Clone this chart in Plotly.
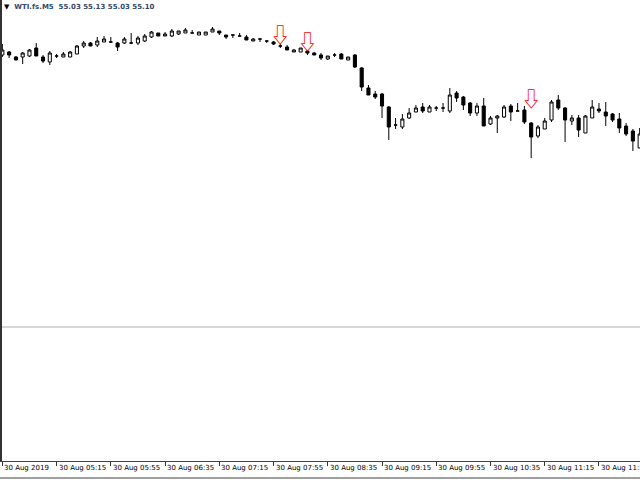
import plotly.graph_objects as go

# ---- data ----
bar_index = list(range(95))

open_ = [55.495, 55.51, 55.485, 55.485, 55.49, 55.53, 55.485, 55.46, 55.49, 55.485,
         55.485, 55.50, 55.54, 55.555, 55.545, 55.56, 55.56, 55.555, 55.555, 55.555,
         55.555, 55.565, 55.585, 55.605, 55.59, 55.59, 55.60, 55.605, 55.605, 55.595,
         55.595, 55.61, 55.615, 55.595, 55.595, 55.59, 55.585, 55.565, 55.575, 55.565,
         55.56, 55.54, 55.535, 55.51, 55.51, 55.515, 55.505, 55.495, 55.475, 55.495,
         55.50, 55.47, 55.495, 55.43, 55.33, 55.30, 55.30, 55.235, 55.145, 55.135,
         55.18, 55.21, 55.235, 55.21, 55.23, 55.23, 55.215, 55.305, 55.285, 55.255,
         55.205, 55.24, 55.15, 55.18, 55.185, 55.24, 55.215, 55.22, 55.155, 55.09,
         55.125, 55.17, 55.27, 55.23, 55.165, 55.18, 55.105, 55.18, 55.225, 55.21,
         55.20, 55.175, 55.14, 55.115, 55.03]
high = [55.55, 55.515, 55.49, 55.51, 55.525, 55.555, 55.495, 55.515, 55.50, 55.51,
        55.515, 55.545, 55.565, 55.56, 55.585, 55.59, 55.585, 55.56, 55.585, 55.605,
        55.59, 55.60, 55.615, 55.605, 55.61, 55.625, 55.615, 55.63, 55.62, 55.61,
        55.61, 55.635, 55.615, 55.595, 55.595, 55.605, 55.595, 55.58, 55.575, 55.565,
        55.565, 55.55, 55.545, 55.525, 55.53, 55.515, 55.51, 55.505, 55.49, 55.505,
        55.505, 55.485, 55.50, 55.435, 55.345, 55.315, 55.305, 55.24, 55.18, 55.20,
        55.23, 55.245, 55.255, 55.245, 55.24, 55.255, 55.33, 55.315, 55.29, 55.26,
        55.255, 55.28, 55.19, 55.195, 55.245, 55.25, 55.255, 55.24, 55.16, 55.145,
        55.18, 55.27, 55.295, 55.235, 55.195, 55.195, 55.195, 55.27, 55.255, 55.26,
        55.205, 55.205, 55.155, 55.125, 55.13]
low = [55.485, 55.48, 55.47, 55.45, 55.485, 55.49, 55.455, 55.445, 55.48, 55.485,
       55.485, 55.50, 55.53, 55.54, 55.535, 55.56, 55.56, 55.515, 55.55, 55.55,
       55.545, 55.56, 55.58, 55.59, 55.59, 55.585, 55.595, 55.605, 55.605, 55.595,
       55.595, 55.61, 55.595, 55.575, 55.58, 55.59, 55.57, 55.565, 55.56, 55.555,
       55.545, 55.53, 55.52, 55.51, 55.51, 55.495, 55.495, 55.47, 55.47, 55.485,
       55.475, 55.47, 55.43, 55.315, 55.295, 55.275, 55.18, 55.07, 55.125, 55.125,
       55.175, 55.21, 55.205, 55.21, 55.215, 55.21, 55.205, 55.26, 55.22, 55.19,
       55.19, 55.14, 55.145, 55.105, 55.18, 55.165, 55.215, 55.15, 54.98, 55.08,
       55.125, 55.16, 55.22, 55.06, 55.145, 55.085, 55.105, 55.18, 55.205, 55.14,
       55.16, 55.105, 55.09, 55.015, 55.03]
close = [55.52, 55.495, 55.47, 55.505, 55.52, 55.49, 55.465, 55.505, 55.49, 55.50,
         55.51, 55.54, 55.555, 55.54, 55.565, 55.575, 55.56, 55.535, 55.575, 55.555,
         55.58, 55.59, 55.61, 55.59, 55.60, 55.615, 55.615, 55.62, 55.605, 55.61,
         55.61, 55.625, 55.605, 55.585, 55.595, 55.59, 55.57, 55.575, 55.575, 55.565,
         55.55, 55.54, 55.52, 55.52, 55.53, 55.505, 55.495, 55.48, 55.49, 55.495,
         55.475, 55.485, 55.435, 55.335, 55.295, 55.285, 55.24, 55.135, 55.145, 55.175,
         55.205, 55.23, 55.215, 55.235, 55.23, 55.23, 55.295, 55.28, 55.245, 55.205,
         55.24, 55.14, 55.18, 55.19, 55.235, 55.21, 55.215, 55.16, 55.085, 55.135,
         55.165, 55.26, 55.23, 55.17, 55.18, 55.12, 55.19, 55.235, 55.215, 55.19,
         55.17, 55.13, 55.10, 55.065, 55.10]

tick_index = [0, 8, 16, 24, 32, 40, 48, 56, 64, 72, 80, 88]
tick_labels = ["30 Aug 2019", "30 Aug 05:15", "30 Aug 05:55", "30 Aug 06:35",
               "30 Aug 07:15", "30 Aug 07:55", "30 Aug 08:35", "30 Aug 09:15",
               "30 Aug 09:55", "30 Aug 10:35", "30 Aug 11:15", "30 Aug 11:55"]

signal_bars = [41, 45, 78]
signal_prices = [55.58, 55.545, 55.26]

symbol = "WTI.fs.M5"
last_ohlc = ["55.03", "55.13", "55.03", "55.10"]

price_top = 55.77
price_bottom = 53.465

# ---- figure ----
fig = go.Figure()

fig.add_trace(go.Candlestick(
    x=bar_index, open=open_, high=high, low=low, close=close,
    increasing=dict(line=dict(color="black", width=1), fillcolor="white"),
    decreasing=dict(line=dict(color="black", width=1), fillcolor="black"),
    whiskerwidth=0, showlegend=False, hoverinfo="skip",
))

fig.add_trace(go.Scatter(
    x=signal_bars, y=signal_prices, mode="text",
    text=["\u21e9"] * len(signal_bars),
    textposition="middle center",
    textfont=dict(color="#ff0000", size=20, family="Noto Sans CJK JP"),
    showlegend=False, hoverinfo="skip",
))

# time labels, left-aligned at their ticks (MetaTrader style)
for ti, tl in zip(tick_index, tick_labels):
    fig.add_annotation(
        x=ti, y=0, xref="x", yref="paper", xanchor="left", yanchor="middle",
        xshift=0, yshift=-7, text=tl, showarrow=False,
        font=dict(family="DejaVu Sans", size=7, color="#000000"),
    )

header = ('<span style="color:#000000">\u25bc</span>'
          '<b>\u00a0\u00a0' + symbol + '\u00a0\u00a0' + ' '.join(last_ohlc) + '</b>')
fig.add_annotation(
    x=0, y=1, xref="paper", yref="paper", xanchor="left", yanchor="top",
    xshift=0, yshift=-1, text=header, showarrow=False,
    font=dict(family="DejaVu Sans", size=7, color="#34486a"),
)

sep_y = 1 - 327 / 461
fig.add_shape(type="line", xref="paper", yref="paper", x0=0, x1=1, y0=sep_y, y1=sep_y,
              line=dict(color="#c8c8c8", width=1.5))
fig.add_shape(type="line", xref="paper", yref="paper", x0=-0.01, x1=1.01,
              y0=-17 / 461, y1=-17 / 461, line=dict(color="#a0a0a0", width=2))

fig.update_layout(
    width=640, height=480,
    margin=dict(l=2, r=0, t=0, b=19, pad=0, autoexpand=False),
    paper_bgcolor="white", plot_bgcolor="white",
    boxgap=0.35,
    showlegend=False,
    xaxis=dict(
        range=[-0.05, 94.05], rangeslider=dict(visible=False),
        tickmode="array", tickvals=tick_index, ticktext=[""] * len(tick_index),
        automargin=False,
        ticks="outside", ticklen=4, tickcolor="#333333", tickwidth=1,
        showgrid=False, zeroline=False,
        showline=True, linecolor="#444444", linewidth=1,
    ),
    yaxis=dict(
        range=[price_bottom, price_top], showticklabels=False, ticks="",
        automargin=False,
        showgrid=False, zeroline=False,
        showline=True, linecolor="#333333", linewidth=1.5,
    ),
)

fig.write_html("out.html", config={"displayModeBar": False},
               post_script="document.body.style.margin='0';")
